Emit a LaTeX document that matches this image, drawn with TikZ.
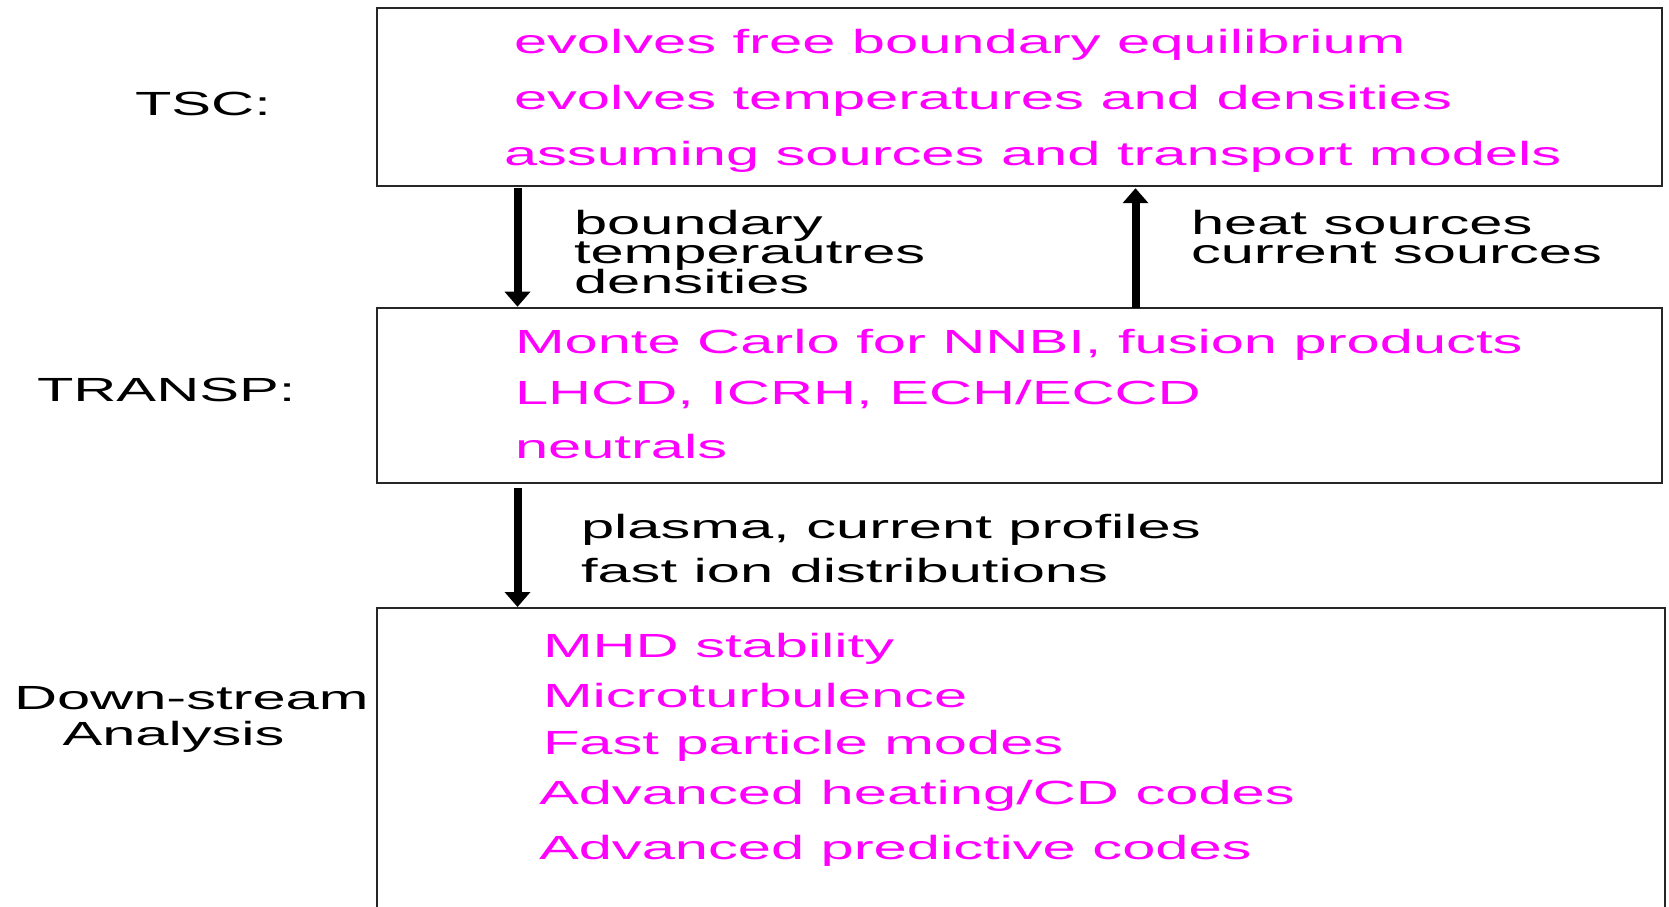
\documentclass[tikz,border=0pt]{standalone}
\usepackage{fontspec}
\setmainfont{Liberation Sans}[FakeStretch=1.78]
\usetikzlibrary{arrows.meta}
\definecolor{mag}{RGB}{255,0,255}
\begin{document}
\begin{tikzpicture}[x=1pt,y=-1pt,
  box/.style={draw=black!85, line width=2pt, inner sep=0pt, outer sep=0pt},
  txt/.style={anchor=base west, inner sep=0pt, outer sep=0pt, font=\fontsize{33.5}{29}\selectfont},
  mtxt/.style={txt, text=mag},
  arr/.style={line width=8pt, -{Triangle[length=15pt,width=25pt]}}]
\clip (0,0) rectangle (1669,906);
\fill[white] (0,0) rectangle (1669,906);
% boxes
\node[box, minimum width=1285.6pt, minimum height=178.2pt] (tsc) at (1019.5,96.6) {};
\node[box, minimum width=1285.6pt, minimum height=175.3pt] (transp) at (1019.5,395.65) {};
\node[box, minimum width=1288.3pt, minimum height=312.3pt] (down) at (1020.85,763.85) {};
% side labels
\node[txt] (ltsc) at (135,115) {TSC:};
\node[txt] (ltransp) at (37,401.7) {TRANSP:};
\node[txt] (ldown1) at (14,709) {Down-stream};
\node[txt] (ldown2) at (62.5,745) {Analysis};
% TSC box text
\node[mtxt] (t1) at (514,53.3) {evolves free boundary equilibrium};
\node[mtxt] (t2) at (514,109) {evolves temperatures and densities};
\node[mtxt] (t3) at (504,165) {assuming sources and transport models};
% TRANSP box text
\node[mtxt] (r1) at (515,353.3) {Monte Carlo for NNBI, fusion products};
\node[mtxt] (r2) at (515,404) {LHCD, ICRH, ECH/ECCD};
\node[mtxt] (r3) at (515,458.3) {neutrals};
% Down-stream box text
\node[mtxt] (d1) at (543,657) {MHD stability};
\node[mtxt] (d2) at (543,707) {Microturbulence};
\node[mtxt] (d3) at (543,754) {Fast particle modes};
\node[mtxt] (d4) at (539,804) {Advanced heating/CD codes};
\node[mtxt] (d5) at (539,859) {Advanced predictive codes};
% arrow labels
\node[txt] (a1l1) at (574,234) {boundary};
\node[txt] (a1l2) at (574,263.8) {temperautres};
\node[txt] (a1l3) at (574,293.6) {densities};
\node[txt] (a2l1) at (1191,234) {heat sources};
\node[txt] (a2l2) at (1191,263.8) {current sources};
\node[txt] (a3l1) at (581,538.5) {plasma, current profiles};
\node[txt] (a3l2) at (581,582.4) {fast ion distributions};
% arrows
\coordinate (xa) at (517.5,0);
\coordinate (xb) at (1135.5,0);
\draw[arr] ([yshift=-2.5pt]tsc.south -| xa) -- ([yshift=1.3pt]transp.north -| xa);
\draw[arr] ([yshift=0.3pt]transp.north -| xb) -- ([yshift=-2.5pt]tsc.south -| xb);
\draw[arr] ([yshift=-4.7pt]transp.south -| xa) -- ([yshift=0.7pt]down.north -| xa);
\end{tikzpicture}
\end{document}
